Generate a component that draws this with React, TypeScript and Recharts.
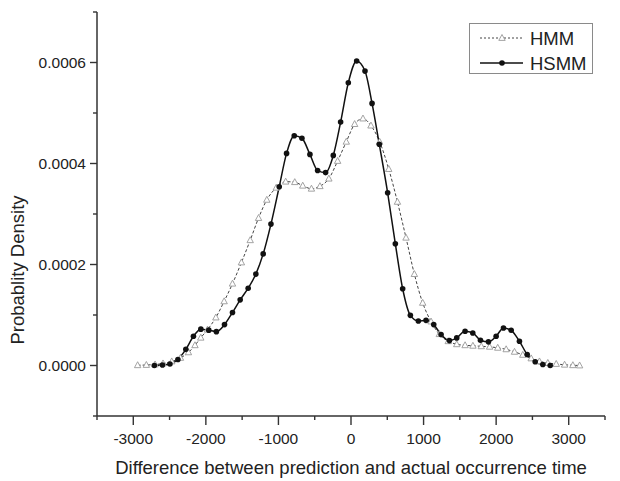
import React from 'react';
import { LineChart, Line, XAxis, YAxis, Legend } from 'recharts';

const FONT = '"Liberation Sans", Arial, Helvetica, sans-serif';

const hmmX = [
  -2940, -2820, -2700, -2590, -2470, -2350, -2240, -2150, -2070, -1977, -1862, -1748, -1633, -1510, -1389, -1274,
  -1160, -1030, -900, -775, -665, -545, -428, -305, -184, -65, 50, 165, 275, 395, 520, 640, 758, 873, 988, 1103,
  1217, 1340, 1457, 1572, 1680, 1795, 1910, 2022, 2138, 2253, 2367, 2483, 2597, 2712, 2828, 2943, 3057, 3150,
];
const hmmY = [
  0.0000005, 0.000001, 0.000002, 0.000004, 0.000008, 0.000015, 0.000026, 0.00004, 0.000055, 0.000071, 0.000095,
  0.000127, 0.000162, 0.000204, 0.000248, 0.000292, 0.000328, 0.000352, 0.000364, 0.000363, 0.000356, 0.00035,
  0.000355, 0.00037, 0.000405, 0.000443, 0.000478, 0.000489, 0.000475, 0.000443, 0.000389, 0.000324, 0.000253,
  0.000181, 0.000124, 0.000087, 0.000062, 0.000048, 0.000042, 0.00004, 0.000039, 0.000038, 0.000037, 0.000035,
  0.000032, 0.000027, 0.000021, 0.000014, 0.000008, 0.000005, 0.000003, 0.0000015, 0.0000005, 0,
];

const hsmmX = [
  -2710, -2598, -2495, -2385, -2276, -2171, -2069, -1960, -1855, -1743, -1633, -1527, -1417, -1311, -1210, -1103,
  -989, -888, -782, -676, -566, -460, -350, -244, -143, -37, 78, 193, 290, 390, 505, 611, 712, 818, 928, 1034,
  1140, 1241, 1356, 1457, 1572, 1678, 1784, 1894, 2000, 2101, 2207, 2321, 2428, 2538, 2643, 2745,
];
const hsmmY = [
  0, 0.000001, 0.000003, 0.000012, 0.000032, 0.000058, 0.000072, 0.00007, 0.000067, 0.000081, 0.000105, 0.00013,
  0.000153, 0.000181, 0.000221, 0.00028, 0.000354, 0.00042, 0.000455, 0.00045, 0.000418, 0.000386, 0.000382,
  0.000416, 0.000482, 0.00056, 0.000603, 0.000583, 0.000519, 0.000438, 0.000342, 0.000241, 0.000152, 0.0000993,
  0.0000882, 0.0000894, 0.000081, 0.0000612, 0.0000493, 0.0000547, 0.0000677, 0.0000645, 0.00005, 0.0000468,
  0.0000579, 0.0000744, 0.0000697, 0.000048, 0.0000217, 0.0000073, 0.000002, 0,
];

const xTicks = [-3500, -3000, -2500, -2000, -1500, -1000, -500, 0, 500, 1000, 1500, 2000, 2500, 3000, 3500];
const yTicks = [-0.0001, 0, 0.0001, 0.0002, 0.0003, 0.0004, 0.0005, 0.0006, 0.0007];

const seriesNames = ['HMM', 'HSMM'];
const xTitle = 'Difference between prediction and actual occurrence time';
const yTitle = 'Probablity Density';

const hmmData = hmmX.map((x, i) => ({ x, y: hmmY[i] }));
const hsmmData = hsmmX.map((x, i) => ({ x, y: hsmmY[i] }));

const AXIS = '#333';
const TEXT = '#222';

function XTick(props: any) {
  const { x, y, payload } = props;
  const v = payload.value;
  const major = Math.round(v) % 1000 === 0 && Math.abs(v) <= 3000;
  return (
    <g>
      <line x1={x} x2={x} y1={y} y2={y + (major ? 9 : 4)} stroke={AXIS} strokeWidth={1.4} />
      {major && (
        <text x={x} y={y + 28} textAnchor="middle" fontSize={15.5} fontFamily={FONT} fill={TEXT}>
          {v}
        </text>
      )}
    </g>
  );
}

function YTick(props: any) {
  const { x, y, payload } = props;
  const v = payload.value;
  const k = Math.round(v * 10000);
  const major = k >= 0 && k % 2 === 0 && k <= 6;
  return (
    <g>
      <line x1={x} x2={x - (major ? 7 : 4)} y1={y} y2={y} stroke={AXIS} strokeWidth={1.4} />
      {major && (
        <text x={x - 11} y={y + 5.5} textAnchor="end" fontSize={15.5} fontFamily={FONT} fill={TEXT}>
          {v.toFixed(4)}
        </text>
      )}
    </g>
  );
}

function Triangle({ cx, cy, size = 3 }: any) {
  if (cx == null || cy == null) return null;
  const pts = `${cx},${cy - size * 1.1} ${cx - size},${cy + size * 0.75} ${cx + size},${cy + size * 0.75}`;
  return <polygon points={pts} fill="#fff" stroke="#9a9a9a" strokeWidth={0.9} />;
}

function LegendBox() {
  return (
    <div
      style={{
        width: 124,
        height: 51,
        border: '1px solid #8a8a8a',
        boxSizing: 'border-box',
        background: '#fff',
      }}
    >
      <svg width={122} height={49} style={{ display: 'block' }}>
        <line x1={10} x2={53} y1={14} y2={14} stroke="#444" strokeWidth={1} strokeDasharray="2 2" />
        <Triangle cx={32} cy={14} size={3.2} />
        <text x={60} y={20.5} fontSize={18.5} fontFamily={FONT} fill={TEXT}>
          {seriesNames[0]}
        </text>
        <line x1={10} x2={53} y1={39} y2={39} stroke="#111" strokeWidth={1.4} />
        <circle cx={32} cy={39} r={2.8} fill="#111" />
        <text x={60} y={45.5} fontSize={18.5} fontFamily={FONT} fill={TEXT}>
          {seriesNames[1]}
        </text>
      </svg>
    </div>
  );
}

function XLabel(props: any) {
  const vb = props.viewBox || {};
  return (
    <text
      x={vb.x + vb.width / 2}
      y={vb.y + 58}
      textAnchor="middle"
      fontSize={18.5}
      fontFamily={FONT}
      fill={TEXT}
    >
      {xTitle}
    </text>
  );
}

function YLabel(props: any) {
  const vb = props.viewBox || {};
  const cx = vb.x + 16;
  const cy = vb.y + 258;
  return (
    <text
      x={cx}
      y={cy}
      transform={`rotate(-90 ${cx} ${cy})`}
      textAnchor="middle"
      fontSize={18.5}
      fontFamily={FONT}
      fill={TEXT}
    >
      {yTitle}
    </text>
  );
}

export default function App() {
  return (
    <LineChart width={612} height={473} margin={{ top: 4, right: 15, left: 0, bottom: 0 }} style={{ fontFamily: FONT }}>
      <XAxis
        type="number"
        dataKey="x"
        domain={[-3500, 3500]}
        ticks={xTicks}
        interval={0}
        allowDataOverflow
        height={65}
        tickLine={false}
        tickSize={0}
        tickMargin={0}
        axisLine={{ stroke: AXIS, strokeWidth: 1.5 }}
        tick={(p: any) => <XTick {...p} />}
        label={{ content: XLabel }}
      />
      <YAxis
        type="number"
        dataKey="y"
        domain={[-0.0001, 0.0007]}
        ticks={yTicks}
        interval={0}
        allowDataOverflow
        width={89}
        tickLine={false}
        tickSize={0}
        tickMargin={0}
        axisLine={{ stroke: AXIS, strokeWidth: 1.5 }}
        tick={(p: any) => <YTick {...p} />}
        label={{ content: YLabel }}
      />
      <Legend
        layout="horizontal"
        verticalAlign="middle"
        align="center"
        wrapperStyle={{ position: 'absolute', left: 461, top: 15, width: 124, height: 51 }}
        content={() => <LegendBox />}
      />
      <Line
        data={hmmData}
        dataKey="y"
        name={seriesNames[0]}
        type="monotone"
        stroke="#444"
        strokeWidth={1}
        strokeDasharray="3 2"
        dot={(p: any) => <Triangle key={`t${p.index}`} cx={p.cx} cy={p.cy} size={3.2} />}
        activeDot={false}
        isAnimationActive={false}
      />
      <Line
        data={hsmmData}
        dataKey="y"
        name={seriesNames[1]}
        type="monotone"
        stroke="#111"
        strokeWidth={1.5}
        dot={{ r: 2.8, fill: '#111', stroke: '#111', strokeWidth: 0 }}
        activeDot={false}
        isAnimationActive={false}
      />
    </LineChart>
  );
}
